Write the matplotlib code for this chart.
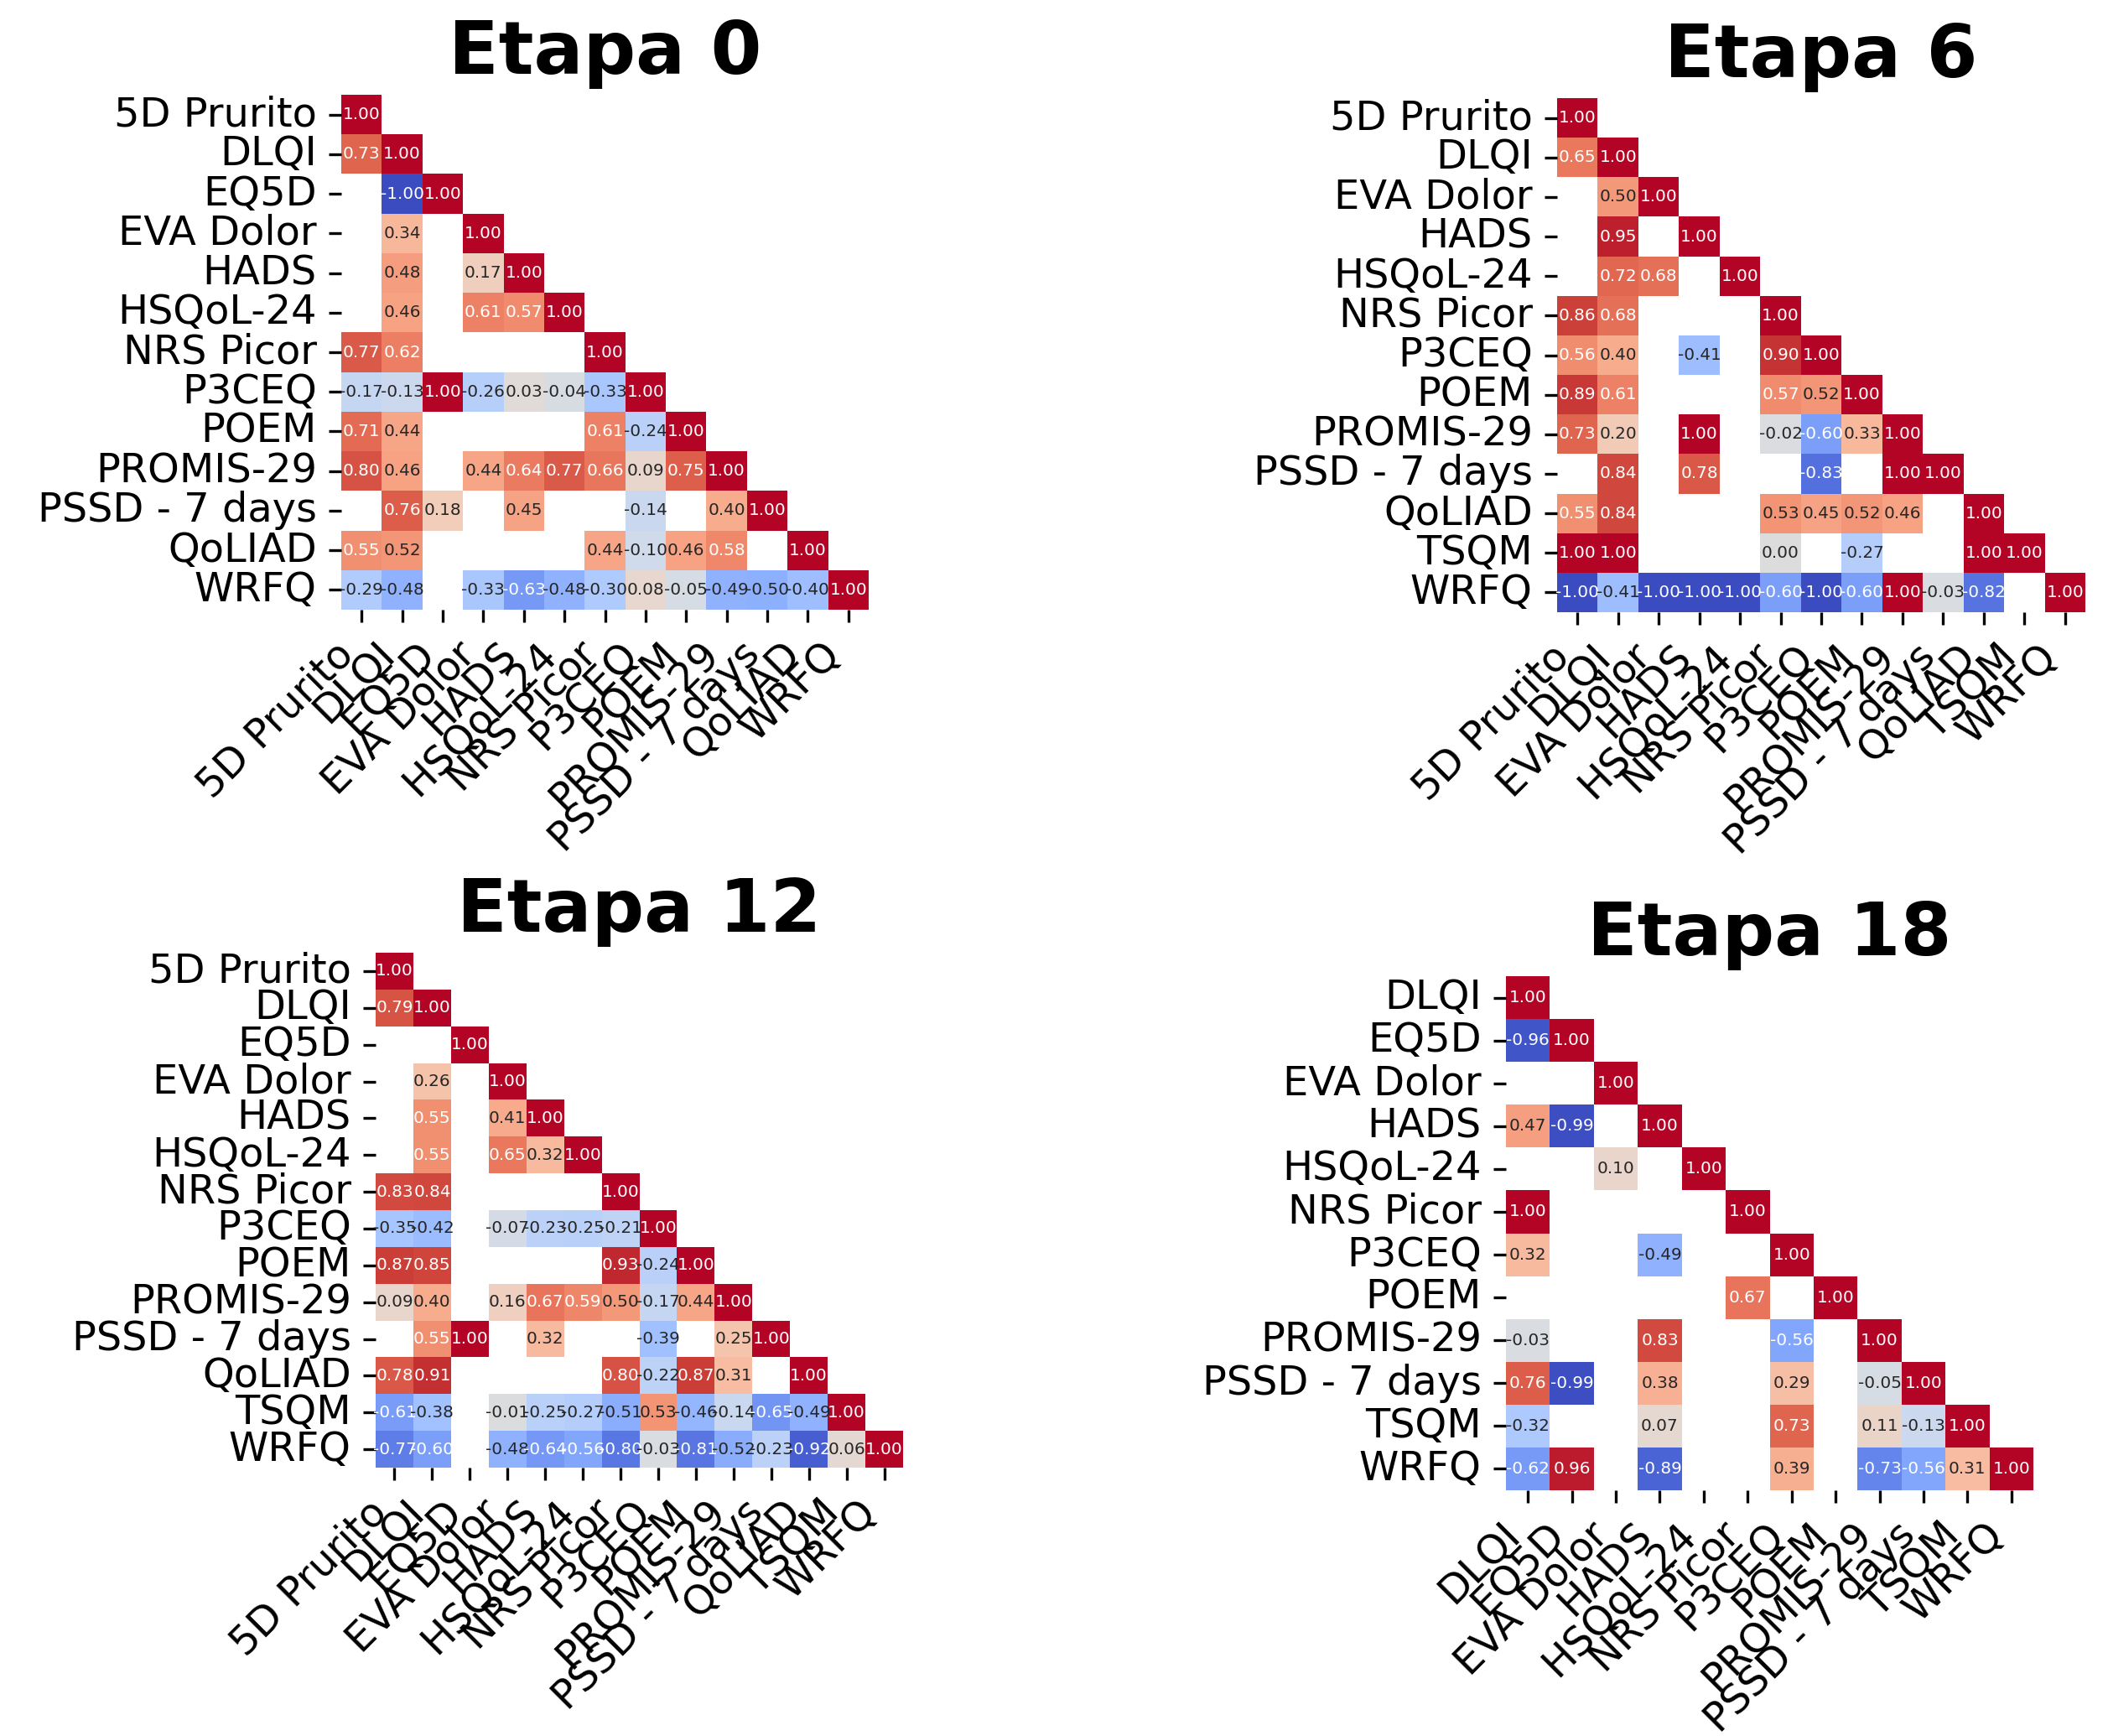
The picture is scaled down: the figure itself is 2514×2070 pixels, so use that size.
import numpy as np
import pandas as pd
import matplotlib
matplotlib.use("Agg")
import matplotlib.pyplot as plt
import seaborn as sns

# variable names per stage
labels_0 = ["5D Prurito", "DLQI", "EQ5D", "EVA Dolor", "HADS", "HSQoL-24", "NRS Picor",
            "P3CEQ", "POEM", "PROMIS-29", "PSSD - 7 days", "QoLIAD", "WRFQ"]
labels_6 = ["5D Prurito", "DLQI", "EVA Dolor", "HADS", "HSQoL-24", "NRS Picor",
            "P3CEQ", "POEM", "PROMIS-29", "PSSD - 7 days", "QoLIAD", "TSQM", "WRFQ"]
labels_12 = ["5D Prurito", "DLQI", "EQ5D", "EVA Dolor", "HADS", "HSQoL-24", "NRS Picor",
             "P3CEQ", "POEM", "PROMIS-29", "PSSD - 7 days", "QoLIAD", "TSQM", "WRFQ"]
labels_18 = ["DLQI", "EQ5D", "EVA Dolor", "HADS", "HSQoL-24", "NRS Picor",
             "P3CEQ", "POEM", "PROMIS-29", "PSSD - 7 days", "TSQM", "WRFQ"]

N = None
# lower triangle rows (incl. diagonal), None = no value
rows_0 = [
    [1.00],
    [0.73, 1.00],
    [N, -1.00, 1.00],
    [N, 0.34, N, 1.00],
    [N, 0.48, N, 0.17, 1.00],
    [N, 0.46, N, 0.61, 0.57, 1.00],
    [0.77, 0.62, N, N, N, N, 1.00],
    [-0.17, -0.13, 1.00, -0.26, 0.03, -0.04, -0.33, 1.00],
    [0.71, 0.44, N, N, N, N, 0.61, -0.24, 1.00],
    [0.80, 0.46, N, 0.44, 0.64, 0.77, 0.66, 0.09, 0.75, 1.00],
    [N, 0.76, 0.18, N, 0.45, N, N, -0.14, N, 0.40, 1.00],
    [0.55, 0.52, N, N, N, N, 0.44, -0.10, 0.46, 0.58, N, 1.00],
    [-0.29, -0.48, N, -0.33, -0.63, -0.48, -0.30, 0.08, -0.05, -0.49, -0.50, -0.40, 1.00],
]
rows_6 = [
    [1.00],
    [0.65, 1.00],
    [N, 0.50, 1.00],
    [N, 0.95, N, 1.00],
    [N, 0.72, 0.68, N, 1.00],
    [0.86, 0.68, N, N, N, 1.00],
    [0.56, 0.40, N, -0.41, N, 0.90, 1.00],
    [0.89, 0.61, N, N, N, 0.57, 0.52, 1.00],
    [0.73, 0.20, N, 1.00, N, -0.02, -0.60, 0.33, 1.00],
    [N, 0.84, N, 0.78, N, N, -0.83, N, 1.00, 1.00],
    [0.55, 0.84, N, N, N, 0.53, 0.45, 0.52, 0.46, N, 1.00],
    [1.00, 1.00, N, N, N, 0.00, N, -0.27, N, N, 1.00, 1.00],
    [-1.00, -0.41, -1.00, -1.00, -1.00, -0.60, -1.00, -0.60, 1.00, -0.03, -0.82, N, 1.00],
]
rows_12 = [
    [1.00],
    [0.79, 1.00],
    [N, N, 1.00],
    [N, 0.26, N, 1.00],
    [N, 0.55, N, 0.41, 1.00],
    [N, 0.55, N, 0.65, 0.32, 1.00],
    [0.83, 0.84, N, N, N, N, 1.00],
    [-0.35, -0.42, N, -0.07, -0.23, -0.25, -0.21, 1.00],
    [0.87, 0.85, N, N, N, N, 0.93, -0.24, 1.00],
    [0.09, 0.40, N, 0.16, 0.67, 0.59, 0.50, -0.17, 0.44, 1.00],
    [N, 0.55, 1.00, N, 0.32, N, N, -0.39, N, 0.25, 1.00],
    [0.78, 0.91, N, N, N, N, 0.80, -0.22, 0.87, 0.31, N, 1.00],
    [-0.61, -0.38, N, -0.01, -0.25, -0.27, -0.51, 0.53, -0.46, -0.14, -0.65, -0.49, 1.00],
    [-0.77, -0.60, N, -0.48, -0.64, -0.56, -0.80, -0.03, -0.81, -0.52, -0.23, -0.92, 0.06, 1.00],
]
rows_18 = [
    [1.00],
    [-0.96, 1.00],
    [N, N, 1.00],
    [0.47, -0.99, N, 1.00],
    [N, N, 0.10, N, 1.00],
    [1.00, N, N, N, N, 1.00],
    [0.32, N, N, -0.49, N, N, 1.00],
    [N, N, N, N, N, 0.67, N, 1.00],
    [-0.03, N, N, 0.83, N, N, -0.56, N, 1.00],
    [0.76, -0.99, N, 0.38, N, N, 0.29, N, -0.05, 1.00],
    [-0.32, N, N, 0.07, N, N, 0.73, N, 0.11, -0.13, 1.00],
    [-0.62, 0.96, N, -0.89, N, N, 0.39, N, -0.73, -0.56, 0.31, 1.00],
]

titles = ["Etapa 0", "Etapa 6", "Etapa 12", "Etapa 18"]


def build_matrix(rows, labels):
    n = len(labels)
    m = np.full((n, n), np.nan)
    for i, r in enumerate(rows):
        for j, v in enumerate(r):
            if v is not None:
                m[i, j] = v
                m[j, i] = v
    return pd.DataFrame(m, index=labels, columns=labels)


W, H = 2514, 2070
fig = plt.figure(figsize=(W / 300, H / 300), dpi=300)

# axes boxes in pixels: left, top, right, bottom
boxes = [(407, 113, 1036, 727), (1857, 117, 2487, 730),
         (448, 1136, 1077, 1750), (1796, 1164, 2425, 1777)]

stages = [(rows_0, labels_0), (rows_6, labels_6), (rows_12, labels_12), (rows_18, labels_18)]

for (rows, labels), title, (l, t, r, b) in zip(stages, titles, boxes):
    ax = fig.add_axes([l / W, 1 - b / H, (r - l) / W, (b - t) / H])
    corr = build_matrix(rows, labels)
    mask = np.triu(np.ones_like(corr, dtype=bool), k=1)
    sns.heatmap(corr, mask=mask, annot=True, fmt=".2f", cmap="coolwarm",
                vmin=-1, vmax=1, cbar=False, annot_kws={"size": 4.8},
                xticklabels=True, yticklabels=True, ax=ax)
    ax.set_title(title, fontsize=21, fontweight="bold")
    ax.set_xticklabels(ax.get_xticklabels(), rotation=45, ha="right", fontsize=11.5)
    ax.set_yticklabels(ax.get_yticklabels(), rotation=0, fontsize=11.5)

fig.savefig("out.png", dpi=300)
